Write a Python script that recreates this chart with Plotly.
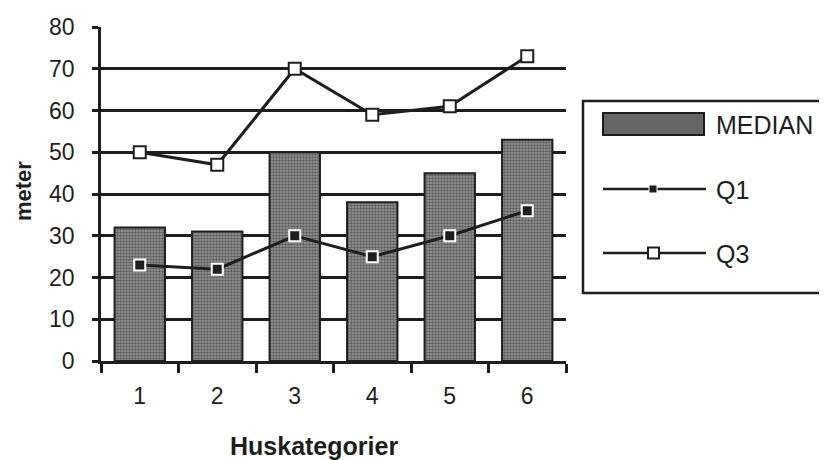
import plotly.graph_objects as go

categories = ["1", "2", "3", "4", "5", "6"]
median = [32, 31, 50, 38, 45, 53]
q1 = [23, 22, 30, 25, 30, 36]
q3 = [50, 47, 70, 59, 61, 73]
y_ticks = [0, 10, 20, 30, 40, 50, 60, 70, 80]

INK = "#1e1e1e"
FONT = "Liberation Sans, Arial, Helvetica, sans-serif"

# target plot-area position in the page (pixels); page body has an 8px margin
OFF = 8
L, R, T, B = 101, 261, 27, 99
W, H = 827, 460
PW, PH = W - L - R, H - T - B


def px(x):
    return (x - L) / PW


def py(y):
    return (H - B - y) / PH


fig = go.Figure()
fig.add_trace(go.Bar(
    x=categories, y=median, name="MEDIAN", width=0.65,
    marker=dict(color="#767676", line=dict(color=INK, width=2),
                pattern=dict(shape=".", fgcolor="#242424", bgcolor="#9a9a9a",
                             size=3, solidity=0.6)),
))
fig.add_trace(go.Scatter(
    x=categories, y=q1, name="Q1", mode="lines+markers",
    line=dict(color=INK, width=3),
    marker=dict(symbol="square", size=11, color=INK, line=dict(color="white", width=2)),
))
fig.add_trace(go.Scatter(
    x=categories, y=q3, name="Q3", mode="lines+markers",
    line=dict(color=INK, width=3),
    marker=dict(symbol="square", size=12, color="white", line=dict(color=INK, width=2)),
))

shapes = [
    dict(type="rect", xref="paper", yref="paper", x0=px(583), x1=px(826), y0=py(293), y1=py(101),
         line=dict(color=INK, width=2.5), fillcolor="white", layer="below"),
    dict(type="rect", xref="paper", yref="paper", x0=px(603), x1=px(704), y0=py(135), y1=py(113),
         line=dict(color=INK, width=2), fillcolor="#666666"),
    dict(type="line", xref="paper", yref="paper", x0=px(603), x1=px(706), y0=py(189), y1=py(189),
         line=dict(color=INK, width=2.5)),
    dict(type="rect", xref="paper", yref="paper", x0=px(649), x1=px(657), y0=py(193), y1=py(185),
         line=dict(color="white", width=1), fillcolor=INK),
    dict(type="line", xref="paper", yref="paper", x0=px(603), x1=px(706), y0=py(253), y1=py(253),
         line=dict(color=INK, width=2.5)),
    dict(type="rect", xref="paper", yref="paper", x0=px(648), x1=px(659), y0=py(258.5), y1=py(247.5),
         line=dict(color=INK, width=2), fillcolor="white"),
]

annotations = [
    dict(text="MEDIAN", x=px(714), y=py(125)),
    dict(text="Q1", x=px(714), y=py(190)),
    dict(text="Q3", x=px(714), y=py(254)),
]
annotations = [dict(a, xref="paper", yref="paper", xanchor="left", yanchor="middle",
                    showarrow=False, font=dict(family=FONT, size=25, color=INK))
               for a in annotations]
annotations += [
    dict(text="<b>meter</b>", x=px(23), y=py(191), xref="paper", yref="paper", textangle=-90,
         showarrow=False, xanchor="center", yanchor="middle", borderpad=0,
         font=dict(family=FONT, size=22, color=INK)),
    dict(text="<b>Huskategorier</b>", x=px(314), y=py(446), xref="paper", yref="paper",
         showarrow=False, xanchor="center", yanchor="middle",
         font=dict(family=FONT, size=25, color=INK)),
]

fig.update_layout(
    width=W - OFF, height=H - OFF,
    margin=dict(l=L - OFF, r=R, t=T - OFF, b=B, autoexpand=False),
    paper_bgcolor="white", plot_bgcolor="white",
    showlegend=False,
    font=dict(family=FONT, size=23, color=INK),
    shapes=shapes, annotations=annotations,
    xaxis=dict(type="category", tickson="boundaries", ticks="outside", ticklen=9,
               tickwidth=2.5, tickcolor=INK, showline=True, linecolor=INK, linewidth=2.5,
               showgrid=False, ticklabelstandoff=13, fixedrange=True),
    yaxis=dict(range=[0, 80], tickvals=y_ticks, ticks="outside", ticklen=6, tickwidth=2.5,
               tickcolor=INK, showline=True, linecolor=INK, linewidth=2.5,
               showgrid=True, gridcolor=INK, gridwidth=2.5, zeroline=False,
               ticklabelstandoff=13, fixedrange=True),
)

fig.write_html("out.html")
